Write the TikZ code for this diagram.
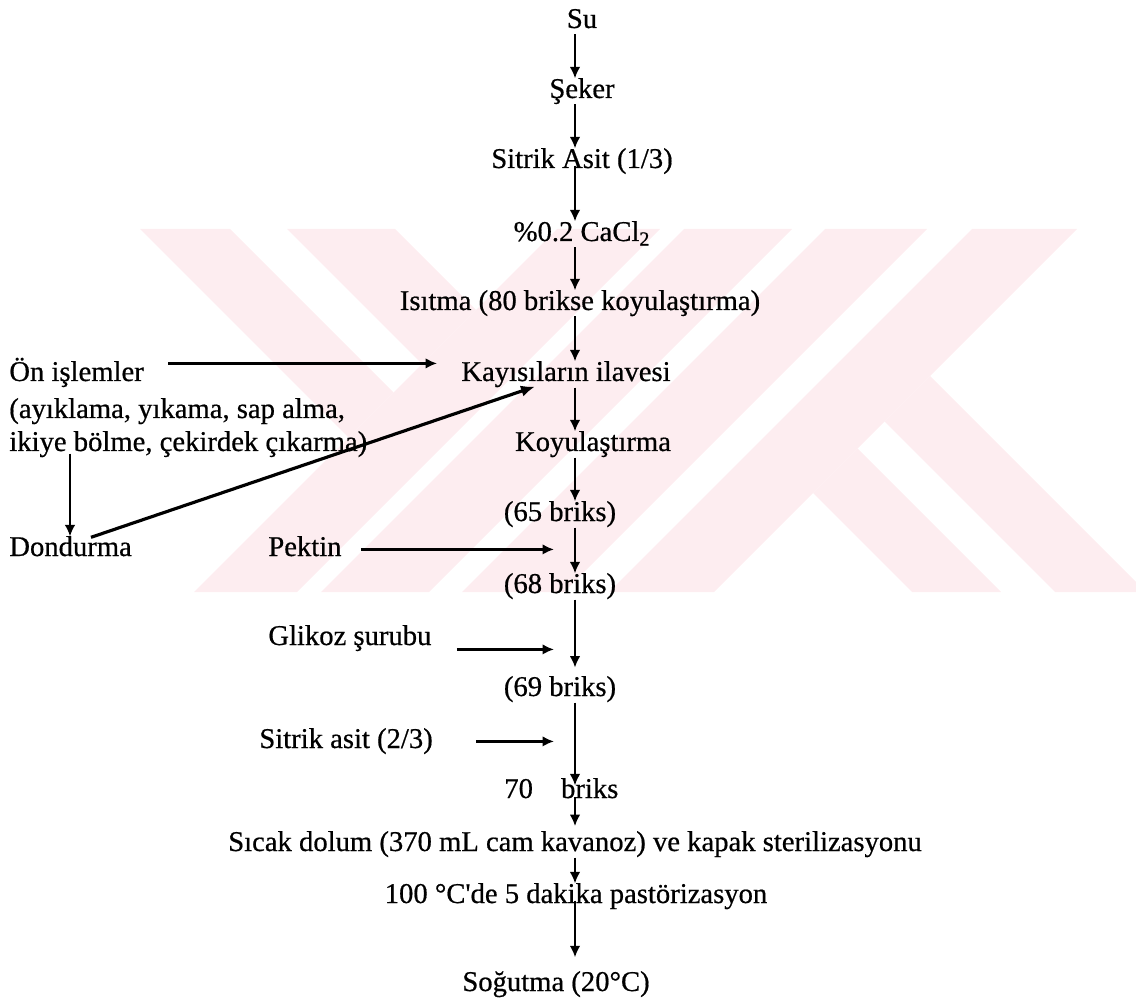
\documentclass[tikz,border=0pt]{standalone}
\usepackage{fontspec}
\setmainfont{Liberation Serif}[FakeBold=0.6]
\usetikzlibrary{positioning,arrows.meta,calc}

\definecolor{wmpink}{RGB}{253,237,240}

\begin{document}
\begin{tikzpicture}[x=0.02cm,y=-0.02cm,
		every node/.style={inner sep=0pt,text height=11pt,text depth=3.5pt,
			font=\fontsize{16.3}{20}\selectfont},
		flow/.style={line width=1.1pt,-{Latex[length=6.5pt,width=6pt]}},
		feed/.style={line width=1.4pt,-{Latex[length=6.5pt,width=6pt]}},
		thaw/.style={line width=1.8pt,-{Latex[length=8pt,width=6.5pt]}}
	]
	\useasboundingbox (0,0) rectangle (1136,1003);

	% Watermark
	\begin{scope}
		\clip (0,229) rectangle (1136,592);
		\fill[wmpink] (140,229) -- (230,229) -- (393.5,392.5) -- (348.5,437.5) -- cycle;
		\fill[wmpink] (287,229) -- (395,229) -- (476,310) -- (422,364) -- cycle;
		\foreach \a/\b in {786/889,913/1021,1054/1156,1201/1306}
			\fill[wmpink] (\a-229,229) -- (\b-229,229) -- (\b-592,592) -- (\a-592,592) -- cycle;
		\fill[wmpink] (930,376) -- (884.5,421.5) -- (1055,592) -- (1146,592) -- cycle;
		\fill[wmpink] (813,493) -- (857.5,448.5) -- (1001,592) -- (912,592) -- cycle;
	\end{scope}

	% Main line
	\coordinate (spine) at (575,0);
	\node[anchor=base] (su) at (582,28) {Su};
	\node[anchor=base] (seker) at (582,98) {Şeker};
	\node[anchor=base] (sitrik) at (582,168) {Sitrik Asit (1/3)};
	\node[anchor=base] (cacl) at (582,241) {\%0.2 CaCl\textsubscript{2}};
	\node[anchor=base] (isitma) at (580,310) {Isıtma (80 brikse koyulaştırma)};
	\node[anchor=base] (kay) at (566,381) {Kayısıların ilavesi};
	\node[anchor=base] (koyu) at (593,451) {Koyulaştırma};
	\node[anchor=base] (b65) at (560,521) {(65 briks)};
	\node[anchor=base] (b68) at (560,593) {(68 briks)};
	\node[anchor=base] (b69) at (560,696) {(69 briks)};
	\node[anchor=base west] (b70) at (504,798) {70\hspace{16pt}briks};
	\node[anchor=base] (dolum) at (575,851) {Sıcak dolum (370 mL cam kavanoz) ve kapak sterilizasyonu};
	\node[anchor=base] (past) at (576,903) {100 °C\textquotesingle de 5 dakika pastörizasyon};
	\node[anchor=base] (sogut) at (556,991) {Soğutma (20°C)};

	% Side inputs
	\node[anchor=base west] (onisl) at (9,381) {Ön işlemler};
	\node[anchor=base west] (ayik) at (9,418) {(ayıklama, yıkama, sap alma,};
	\node[anchor=base west] (ikiye) at (9,451) {ikiye bölme, çekirdek çıkarma)};
	\node[anchor=base west] (dond) at (9,556) {Dondurma};
	\node[anchor=base west] (pektin) at (268,556) {Pektin};
	\node[anchor=base west] (glikoz) at (268,645) {Glikoz şurubu};
	\node[anchor=base west] (sitrik2) at (259,748) {Sitrik asit (2/3)};

	\draw[flow] (su.south -| spine) -- (seker.north -| spine);
	\draw[flow] (seker.south -| spine) -- (sitrik.north -| spine);
	\draw[flow,shorten <=-5pt] (sitrik.south -| spine) -- (cacl.north -| spine);
	\draw[flow] (cacl.south -| spine) -- (isitma.north -| spine);
	\draw[flow] (isitma.south -| spine) -- (kay.north -| spine);
	\draw[flow] (kay.south -| spine) -- (koyu.north -| spine);
	\draw[flow] (koyu.south -| spine) -- (b65.north -| spine);
	\draw[flow] (b65.south -| spine) -- (b68.north -| spine);
	\draw[flow,shorten >=5pt] (b68.south -| spine) -- (b69.north -| spine);
	\draw[flow,shorten >=-4pt] (b69.south -| spine) -- (b70.north -| spine);
	\draw[flow,shorten <=-4pt,shorten >=3pt] (b70.south -| spine) -- (dolum.north -| spine);
	\draw[flow] (dolum.south -| spine) -- (past.north -| spine);
	\draw[flow,shorten <=-5pt,shorten >=8pt] (past.south -| spine) -- (sogut.north -| spine);

	\draw[feed] ($(onisl.east)+(24,-11)$) -- ($(kay.west)+(-24,-11)$);
	\draw[flow,line width=0.9pt] ($(ikiye.south west)+(61,-4)$) -- ($(dond.north west)+(61,0)$);
	\draw[thaw] ($(dond.north west)+(82,1)$) -- ($(kay.south west)+(74,-1)$);
	\draw[feed] ($(pektin.east)+(19,0)$) -- ($(pektin.east -| spine)+(-21,0)$);
	\draw[feed] ($(glikoz.east)+(25,11)$) -- ($(glikoz.east -| spine)+(-21,11)$);
	\draw[feed] ($(sitrik2.east)+(43,0)$) -- ($(sitrik2.east -| spine)+(-21,0)$);

\end{tikzpicture}
\end{document}
